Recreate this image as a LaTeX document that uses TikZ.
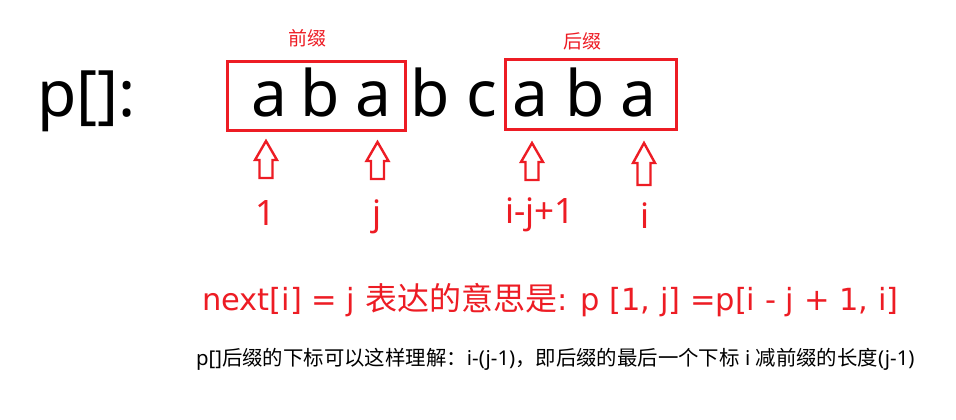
\documentclass[tikz,border=0pt]{standalone}
\usepackage{fontspec}
\setmainfont{Noto Sans}
\newfontfamily\cjk{Noto Sans CJK SC}
\newfontfamily\wide{DejaVu Sans}
\usetikzlibrary{positioning}
\definecolor{MarkRed}{RGB}{237,28,36}

\begin{document}
\begin{tikzpicture}[x=1pt, y=-1pt,
    letter/.style={font=\fontsize{64}{64}\selectfont, inner sep=0pt, anchor=base},
    idx/.style={font=\fontsize{35}{35}\selectfont, text=MarkRed, inner sep=0pt, anchor=base},
    tag/.style={font=\cjk\fontsize{19}{19}\selectfont, text=MarkRed, inner sep=0pt},
    markbox/.style={draw=MarkRed, line width=3pt},
    uparrow/.style={draw=MarkRed, line width=2.4pt, line join=miter}]
  \useasboundingbox (0,0) rectangle (956,420);
  % the pattern string
  \node[letter, anchor=base west] (pname) at (37,117) {p[]:};
  \foreach \n/\x/\c in {1/269/a, 2/320/b, 3/373/a, 4/430/b, 5/482/c, 6/530/a, 7/585/b, 8/638/a}
    \node[letter] (l\n) at (\x,117) {\c};
  % prefix and suffix boxes
  \draw[markbox] (227,62) rectangle (405,130);
  \draw[markbox] (505,60) rectangle (676,129);
  \node[tag] (pretag) at (307,38) {前缀};
  \node[tag] (suftag) at (582,41) {后缀};
  % hollow arrows and their indices
  \foreach \n/\x/\t/\h/\b/\lab/\lx/\ly in {1/266/141/160/178/1/266/225, 2/377.5/142/161/179/j/377/225,
                                        3/532/143/162/180/{i-j+1}/540/223, 4/644/143/163/185/i/645/228} {
    \draw[uparrow] (\x,\t) -- (\x+11,\h) -- (\x+6.5,\h) -- (\x+6.5,\b) -- (\x-6.5,\b)
      -- (\x-6.5,\h) -- (\x-11,\h) -- cycle;
    \node[idx] (lab\n) at (\lx,\ly) {\lab};
  }
  % explanation
  \node[anchor=base west, inner sep=0pt, text=MarkRed, font=\wide\fontsize{30.5}{30.5}\selectfont] (rule) at (202,310)
    {next[i] = j {\cjk\fontsize{32}{32}\selectfont 表达的意思是}: p [1, j] =p[i - j + 1, i]};
  \node[anchor=base west, inner sep=0pt, font=\fontsize{20.4}{20.4}\selectfont] (note) at (196,365)
    {p[]{\cjk 后缀的下标可以这样理解：}i-(j-1){\cjk ，即后缀的最后一个下标} i {\cjk 减前缀的长度}(j-1)};
\end{tikzpicture}
\end{document}
